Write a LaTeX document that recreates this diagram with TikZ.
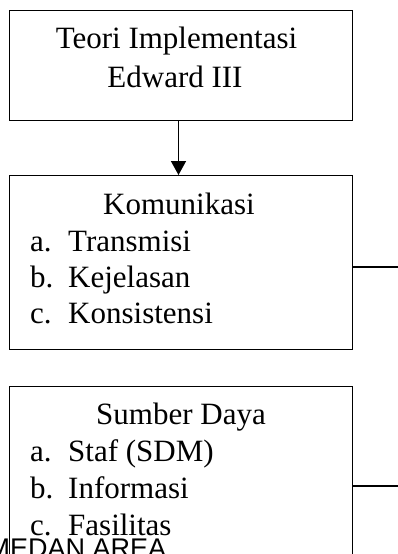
\documentclass[tikz,border=0pt]{standalone}
\usepackage{fontspec}
\setmainfont{Liberation Serif}
\newfontfamily\wmfont{Liberation Sans}
\usetikzlibrary{arrows.meta}
\tikzset{
  boxnode/.style={draw=black, line width=1pt, rectangle, anchor=north west, minimum width=343pt, inner sep=0pt, outer sep=0pt},
  txt/.style={inner sep=0pt, font=\fontsize{31}{36}\selectfont},
  conn/.style={line width=1.4pt, black},
  arr/.style={line width=1.5pt, -{Triangle[width=15pt,length=14pt]}}
}
\begin{document}
\begin{tikzpicture}[x=1pt,y=-1pt]
\clip (0,0) rectangle (398,554);
\useasboundingbox (0,0) rectangle (398,554);
% boxes
\node[boxnode, minimum height=110pt] (b1) at (9,10) {};
\node[boxnode, minimum height=174pt] (b2) at (9,175) {};
\node[boxnode, minimum height=250pt] (b3) at (9,386) {};
% box 1 text
\node[txt, anchor=base] (t1a) at (176.5,48) {Teori Implementasi};
\node[txt, anchor=base] (t1b) at (175,87) {Edward III};
% box 2 text
\node[txt, anchor=base] (t2h) at (179,214) {Komunikasi};
\node[txt, anchor=base west] (t2al) at (30,251) {a.};
\node[txt, anchor=base west] (t2a) at (68,251) {Transmisi};
\node[txt, anchor=base west] (t2bl) at (30,287) {b.};
\node[txt, anchor=base west] (t2b) at (68,287) {Kejelasan};
\node[txt, anchor=base west] (t2cl) at (30,323) {c.};
\node[txt, anchor=base west] (t2c) at (68,323) {Konsistensi};
% box 3 text
\node[txt, anchor=base] (t3h) at (181,424) {Sumber Daya};
\node[txt, anchor=base west] (t3al) at (30,461) {a.};
\node[txt, anchor=base west] (t3a) at (68,461) {Staf (SDM)};
\node[txt, anchor=base west] (t3bl) at (30,498) {b.};
\node[txt, anchor=base west] (t3b) at (68,498) {Informasi};
\node[txt, anchor=base west] (t3cl) at (30,535) {c.};
\node[txt, anchor=base west] (t3c) at (68,535) {Fasilitas};
% connectors
\draw[arr] ([xshift=-2pt]b1.south) -- ([xshift=-2pt]b2.north);
\coordinate (e2) at (398,267);
\coordinate (e3) at (398,486);
\draw[conn] (b2.east |- e2) -- (e2);
\draw[conn] (b3.east |- e3) -- (e3);
% watermark
\node[inner sep=0pt, anchor=base west, font=\wmfont\fontsize{27}{27}\selectfont] (wm) at (-12.5,557) {MEDAN AREA};
\end{tikzpicture}
\end{document}
